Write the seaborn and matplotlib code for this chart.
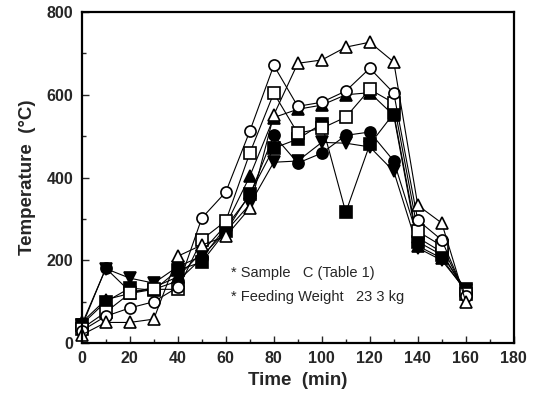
import matplotlib
matplotlib.use("Agg")
import matplotlib.pyplot as plt
from matplotlib.ticker import MultipleLocator
import seaborn as sns
import pandas as pd

time_min = [0, 10, 20, 30, 40, 50, 60, 70, 80, 90, 100, 110, 120, 130, 140, 150, 160]

circle_open = [30, 65, 85, 100, 135, 302, 365, 512, 671, 572, 582, 609, 664, 604, 297, 249, 115]
triangle_open = [20, 50, 50, 58, 210, 237, 258, 326, 551, 676, 684, 715, 727, 679, 333, 290, 100]
square_open = [35, 75, 120, 130, 130, 250, 295, 459, 604, 507, 519, 546, 613, 580, 270, 235, 118]
circle_filled = [40, 181, 125, 130, 150, 205, 280, 357, 502, 435, 459, 502, 510, 440, 255, 220, 120]
square_filled = [45, 100, 133, 128, 176, 196, 270, 360, 471, 493, 530, 316, 480, 555, 245, 213, 130]
triangle_filled = [50, 105, 120, 135, 160, 220, 285, 403, 545, 565, 575, 600, 605, 550, 235, 205, 125]
tridown_filled = [45, 180, 157, 145, 185, 210, 270, 335, 437, 440, 485, 483, 474, 415, 230, 200, 128]

series = [
    (tridown_filled, "v", "black"),
    (triangle_filled, "^", "black"),
    (square_filled, "s", "black"),
    (circle_filled, "o", "black"),
    (square_open, "s", "white"),
    (circle_open, "o", "white"),
    (triangle_open, "^", "white"),
]

sns.set_style("ticks")
plt.rcParams["font.family"] = ["Liberation Sans", "DejaVu Sans"]

fig = plt.figure(figsize=(5.38, 3.99), dpi=100)
ax = fig.add_axes([0.152, 0.140, 0.803, 0.830])

for vals, mk, face in series:
    df = pd.DataFrame({"t": time_min, "T": vals})
    sns.lineplot(data=df, x="t", y="T", ax=ax, color="black", linewidth=0.8,
                 marker=mk, markersize=8, markerfacecolor=face,
                 markeredgecolor="black", markeredgewidth=1.2, clip_on=False)

ax.set_xlim(0, 180)
ax.set_ylim(0, 800)
ax.xaxis.set_major_locator(MultipleLocator(20))
ax.xaxis.set_minor_locator(MultipleLocator(10))
ax.yaxis.set_major_locator(MultipleLocator(200))
ax.yaxis.set_minor_locator(MultipleLocator(100))
ax.tick_params(which="both", direction="in", labelsize=11.5, width=1.0)
ax.tick_params(which="major", length=5, pad=6)
ax.tick_params(which="minor", length=3)
for lab in ax.get_xticklabels() + ax.get_yticklabels():
    lab.set_fontweight("bold")
for sp in ax.spines.values():
    sp.set_linewidth(1.6)
    sp.set_color("black")

ax.set_xlabel("Time  (min)", fontsize=13.5, fontweight="bold", labelpad=4)
ax.set_ylabel("Temperature  (\u00b0C)", fontsize=13.5, fontweight="bold", labelpad=8)

ax.text(62, 169, "* Sample   C (Table 1)", fontsize=10.5, va="center", ha="left")
ax.text(62, 111, "* Feeding Weight   23 3 kg", fontsize=10.5, va="center", ha="left")

fig.savefig("out.png", dpi=100)
